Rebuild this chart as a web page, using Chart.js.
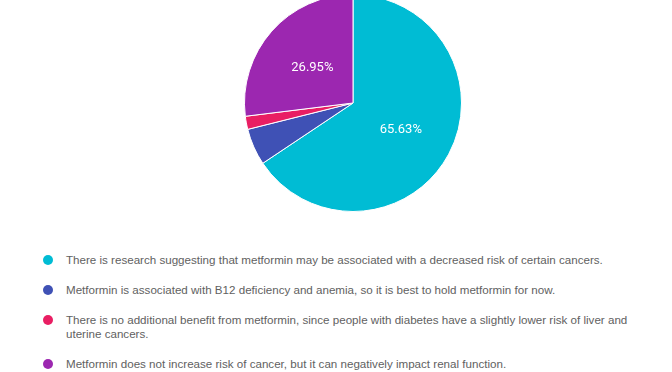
<!DOCTYPE html>
<html>
<head>
<meta charset="utf-8">
<script src="https://cdn.jsdelivr.net/npm/chart.js@4/dist/chart.umd.min.js"></script>
<style>
  html, body { margin: 0; padding: 0; background: #fff; }
  body { width: 672px; height: 372px; position: relative; overflow: hidden; font-family: "Liberation Sans", Arial, sans-serif; }
  #pieBox { position: absolute; left: 244px; top: -6px; width: 218px; height: 218px; }
  #legend { position: absolute; left: 42px; top: 253px; width: 620px; }
  .item { position: relative; padding-left: 24px; margin-bottom: 16px; font-size: 11.6px; line-height: 14px; color: #616161; width: 575px; }
  .dot { position: absolute; left: 1px; top: 2px; width: 10px; height: 10px; border-radius: 50%; }
</style>
</head>
<body>
<div id="pieBox"><canvas id="pie"></canvas></div>
<div id="legend"></div>
<script>
const answers = [
  'There is research suggesting that metformin may be associated with a decreased risk of certain cancers.',
  'Metformin is associated with B12 deficiency and anemia, so it is best to hold metformin for now.',
  'There is no additional benefit from metformin, since people with diabetes have a slightly lower risk of liver and uterine cancers.',
  'Metformin does not increase risk of cancer, but it can negatively impact renal function.'
];
const responses = [168, 14, 5, 69];
const sliceColors = ['#00bcd4', '#3f51b5', '#e91e63', '#9c27b0'];

const total = responses.reduce((a, b) => a + b, 0);

// percentage text in the middle of the big slices
const sliceLabels = {
  id: 'sliceLabels',
  afterDatasetsDraw(chart) {
    const ctx = chart.ctx;
    const meta = chart.getDatasetMeta(0);
    ctx.save();
    ctx.fillStyle = '#ffffff';
    ctx.font = '13px Roboto, "Liberation Sans", sans-serif';
    ctx.textAlign = 'center';
    ctx.textBaseline = 'middle';
    meta.data.forEach((arc, i) => {
      const pct = responses[i] / total * 100;
      if (pct < 10) return;
      const p = arc.tooltipPosition();
      ctx.fillText(pct.toFixed(2) + '%', p.x, p.y + 1);
    });
    ctx.restore();
  }
};

new Chart(document.getElementById('pie'), {
  type: 'pie',
  data: {
    labels: answers,
    datasets: [{
      data: responses,
      backgroundColor: sliceColors,
      borderColor: '#ffffff',
      borderWidth: 1
    }]
  },
  options: {
    responsive: true,
    maintainAspectRatio: false,
    animation: false,
    layout: { padding: 0 },
    plugins: {
      legend: { display: false },
      tooltip: { enabled: false }
    }
  },
  plugins: [sliceLabels]
});

const legend = document.getElementById('legend');
answers.forEach((text, i) => {
  const row = document.createElement('div');
  row.className = 'item';
  row.innerHTML = `<span class="dot" style="background:${sliceColors[i]}"></span>${text}`;
  legend.appendChild(row);
});
</script>
</body>
</html>
